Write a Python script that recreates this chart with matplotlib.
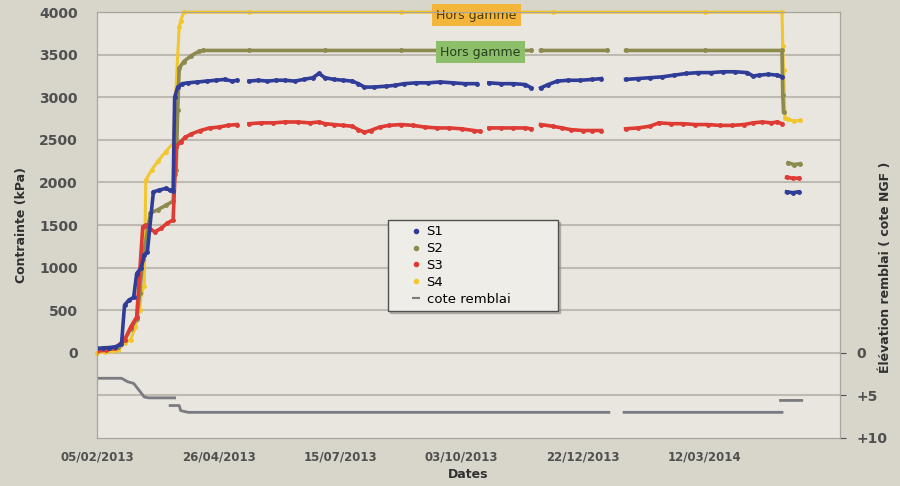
import numpy as np
import pandas as pd
import matplotlib
matplotlib.use("Agg")
import matplotlib.pyplot as plt
from matplotlib.lines import Line2D

# day offsets counted from the first date of the record
start = pd.Timestamp("2013-02-05")
nan = np.nan

s1_days = [0, 4, 8, 12, 16, 18, 21, 24, 26, 29, 31, 33, 37, 41, 45, 48, 50,
           51, 53, 56, 60, 66, 72, 78, 84, 89, 92, 96, 100, 106, 112, 118, 124,
           130, 136, 142, 146, 150, 156, 162, 168, 172, 176, 182, 190, 196, 202,
           210, 218, 226, 234, 242, 250, 254, 258, 266, 274, 282, 286, 289, 292,
           297, 303, 310, 318, 326, 332, 338, 348, 356, 364, 372, 380, 388, 396,
           404, 412, 420, 428, 432, 436, 442, 448, 451, 452, 454, 458, 462]
s1_vals = [50, 55, 60, 70, 100, 560, 620, 650, 930, 1000, 1150, 1180, 1890, 1910,
           1930, 1910, 1900, 3000, 3120, 3160, 3170, 3180, 3190, 3200, 3210, 3190,
           3200, nan, 3190, 3200, 3190, 3200, 3200, 3190, 3210, 3230, 3280, 3230,
           3210, 3200, 3190, 3160, 3120, 3120, 3130, 3140, 3160, 3170, 3170, 3180,
           3170, 3160, 3160, nan, 3170, 3160, 3160, 3150, 3110, nan, 3110, 3150,
           3190, 3200, 3200, 3210, 3220, nan, 3210, 3220, 3230, 3240, 3260, 3280,
           3290, 3290, 3300, 3300, 3290, 3250, 3260, 3270, 3260, 3240, nan, 1890,
           1880, 1890]

s2_days = [0, 5, 10, 14, 18, 22, 26, 28, 30, 35, 40, 45, 50, 51, 52, 53, 54, 57,
           62, 67, 70, 100, 150, 200, 250, 286, 289, 292, 336, 338, 348, 400, 451,
           451.5, 452, 453, 455, 459, 463]
s2_vals = [40, 60, 60, 70, 150, 280, 400, 700, 1100, 1640, 1680, 1730, 1780, 2100,
           2150, 2850, 3340, 3420, 3490, 3540, 3550, 3550, 3550, 3550, 3550, 3550,
           nan, 3550, 3550, nan, 3550, 3550, 3550, 3030, 2830, nan, 2230, 2210,
           2220]

s3_days = [0, 6, 12, 18, 22, 26, 30, 32, 35, 38, 42, 46, 50, 52, 55, 58, 62, 68,
           74, 80, 86, 92, 96, 100, 108, 116, 124, 132, 140, 146, 150, 156, 162,
           168, 172, 176, 180, 186, 192, 200, 208, 216, 224, 232, 240, 248, 252,
           255, 258, 266, 274, 282, 286, 289, 292, 300, 306, 312, 320, 326, 332,
           338, 348, 356, 364, 370, 378, 386, 394, 402, 410, 418, 426, 432, 438,
           444, 448, 451, 452, 454, 458, 462]
s3_vals = [20, 30, 60, 150, 300, 420, 1480, 1500, 1450, 1420, 1460, 1520, 1560,
           2420, 2480, 2530, 2570, 2610, 2640, 2650, 2670, 2680, nan, 2690, 2700,
           2700, 2710, 2710, 2700, 2710, 2690, 2680, 2670, 2660, 2620, 2590, 2610,
           2650, 2670, 2680, 2670, 2650, 2640, 2640, 2630, 2610, 2600, nan, 2640,
           2640, 2640, 2640, 2630, nan, 2680, 2660, 2640, 2620, 2610, 2610, 2610,
           nan, 2630, 2640, 2660, 2700, 2690, 2690, 2680, 2680, 2670, 2670, 2680,
           2700, 2710, 2700, 2710, 2690, nan, 2060, 2050, 2050]

s4_days = [0, 5, 10, 14, 18, 22, 25, 28, 29, 31, 32, 36, 40, 45, 50, 54, 55, 57,
           100, 200, 300, 400, 451, 451.5, 452, 453, 455, 459, 463]
s4_vals = [0, 10, 20, 30, 120, 150, 300, 500, 700, 780, 2030, 2150, 2250, 2360,
           2460, 3820, 3900, 4000, 4000, 4000, 4000, 4000, 4000, 3600, 3320, 2760,
           2740, 2720, 2730]

cote_days = [0, 16, 20, 24, 28, 31, 34, 51, 51.5, 48, 54, 55, 60, 200, 337, 338,
             347, 451, 451.5, 450, 464]
cote_vals = [3.0, 3.0, 3.4, 3.6, 4.5, 5.2, 5.3, 5.3, nan, 6.2, 6.2, 6.8, 7.0, 7.0,
             7.0, nan, 7.0, 7.0, nan, 5.6, 5.6]

tick_labels = ["05/02/2013", "26/04/2013", "15/07/2013", "03/10/2013",
               "22/12/2013", "12/03/2014"]


def to_dates(days):
    return start + pd.to_timedelta(days, unit="D")


fig = plt.figure(figsize=(9, 4.86), dpi=100, facecolor="#D8D5CB")
ax = fig.add_axes([0.108, 0.099, 0.825, 0.876])
ax.set_facecolor("#E9E6DF")

colors = {"S1": "#2F3D99", "S2": "#8C8A4E", "S3": "#DD3B33", "S4": "#F2C62E"}

ax.plot(to_dates(s4_days), s4_vals, "-o", color=colors["S4"], lw=2.2, ms=2.5,
        clip_on=False, zorder=3)
ax.plot(to_dates(s2_days), s2_vals, "-o", color=colors["S2"], lw=2.6, ms=2.5, zorder=4)
ax.plot(to_dates(s3_days), s3_vals, "-o", color=colors["S3"], lw=2.6, ms=2.5, zorder=5)
ax.plot(to_dates(s1_days), s1_vals, "-o", color=colors["S1"], lw=2.6, ms=2.5, zorder=6)

ax.set_ylim(-1000, 4000)
ax.set_yticks(np.arange(-500, 4001, 500))
ax.set_yticklabels([""] + [str(v) for v in range(0, 4001, 500)])
ax.grid(axis="y", color="#BDBAB2", lw=1.5)
ax.set_axisbelow(True)

xt = pd.to_datetime(tick_labels, format="%d/%m/%Y")
ax.set_xticks(xt)
ax.set_xticklabels(tick_labels)
ax.set_xlim(start, pd.Timestamp("2014-06-09"))

for s in ax.spines.values():
    s.set_color("#A8A59D")
ax.tick_params(axis="both", length=0, colors="#505050")
ax.tick_params(axis="y", labelsize=10, pad=14)
ax.tick_params(axis="x", labelsize=8.5, pad=9)
for lab in ax.get_xticklabels() + ax.get_yticklabels():
    lab.set_fontweight("bold")

ax2 = ax.twinx()
ax2.plot(to_dates(cote_days), cote_vals, "-", color="#7A7A80", lw=2)
ax2.set_ylim(10, -40)
ax2.set_yticks([0, 5, 10])
ax2.set_yticklabels(["0", "+5", "+10"])
ax2.tick_params(axis="y", length=4, colors="#505050", labelsize=10, pad=8)
for lab in ax2.get_yticklabels():
    lab.set_fontweight("bold")
for s in ax2.spines.values():
    s.set_color("#A8A59D")

ax.set_ylabel("Contrainte (kPa)", fontsize=9, fontweight="bold", color="#303030",
              labelpad=8)
ax.set_xlabel("Dates", fontsize=9, fontweight="bold", color="#303030", labelpad=3)
fig.text(0.984, 0.45, "Élévation remblai ( cote NGF )", rotation=90, ha="center",
         va="center", fontsize=9, fontweight="bold", color="#303030")

ax.text(0.511, 0.993, "Hors gamme", transform=ax.transAxes, ha="center",
        va="center", fontsize=9, color="#4A3A08", zorder=10,
        bbox=dict(boxstyle="square,pad=0.35", fc="#F3B63A", ec="none"))
ax.text(0.516, 0.906, "Hors gamme", transform=ax.transAxes, ha="center",
        va="center", fontsize=9, color="#25401A", zorder=10,
        bbox=dict(boxstyle="square,pad=0.35", fc="#8DBE6A", ec="none"))

handles = [Line2D([], [], ls="none", marker="o", ms=3, color=colors[k]) for k in
           ["S1", "S2", "S3", "S4"]]
handles.append(Line2D([], [], ls="none", marker="_", ms=6, mew=1.5, color="#7A7A80"))
leg = ax.legend(handles, ["S1", "S2", "S3", "S4", "cote remblai"],
                loc="upper left", bbox_to_anchor=(0.392, 0.28, 0.229, 0.232),
                mode="expand", borderaxespad=0, fontsize=9.5, labelspacing=0.3,
                handlelength=3.4, handletextpad=-0.9, fancybox=False,
                shadow=dict(ox=1.5, oy=-1.5, color="#8A8882"), framealpha=1)
leg.get_frame().set_facecolor("#EFEDE8")
leg.get_frame().set_edgecolor("#505050")
leg.set_zorder(20)

fig.savefig("out.png", dpi=100, facecolor=fig.get_facecolor())
